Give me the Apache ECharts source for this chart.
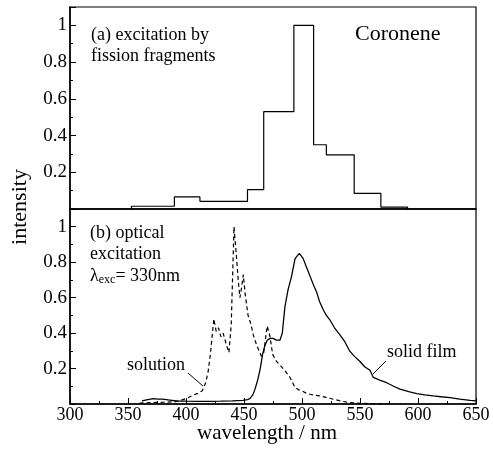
<!DOCTYPE html>
<html>
<head>
<meta charset="utf-8">
<script src="https://cdn.jsdelivr.net/npm/echarts@6/dist/echarts.min.js"></script>
<style>
  html, body { margin: 0; padding: 0; background: #fff; }
  #chart { width: 493px; height: 450px; }
</style>
</head>
<body>
<div id="chart"></div>
<script>
// (a) emission excited by fission fragments: histogram bin edges (nm) and heights
const binEdges = [353, 390, 412, 453, 467, 493, 510, 521, 545, 568, 591];
const binHeights = [0.015, 0.066, 0.042, 0.105, 0.53, 1.0, 0.35, 0.295, 0.085, 0.01];

// (b) optical excitation, solution spectrum (dashed)
const solutionNm = [360, 370, 380, 390, 395, 400, 405, 410, 414, 417, 419, 421, 422.5, 424, 426, 428, 430, 432, 435, 437, 439, 441.4, 443.5, 445, 446.5, 448, 449.4, 451, 453.5, 456, 458, 461, 465, 467, 470, 472.4, 474.7, 478, 481, 485, 489.7, 494, 497, 500, 504, 507, 511, 515.5, 521, 527, 534, 541, 550, 560, 575];
const solutionVal = [0.005, 0.008, 0.01, 0.012, 0.02, 0.03, 0.046, 0.06, 0.075, 0.12, 0.18, 0.28, 0.38, 0.48, 0.41, 0.43, 0.38, 0.40, 0.33, 0.29, 0.45, 1.0, 0.83, 0.70, 0.60, 0.66, 0.73, 0.62, 0.50, 0.45, 0.39, 0.33, 0.27, 0.29, 0.44, 0.38, 0.28, 0.24, 0.22, 0.19, 0.15, 0.093, 0.08, 0.074, 0.06, 0.055, 0.05, 0.046, 0.037, 0.027, 0.016, 0.008, 0.004, 0.002, 0.0];

// (b) optical excitation, solid film spectrum (solid)
const filmNm = [362, 367, 372, 376, 380, 386, 392, 400, 410, 420, 430, 440, 449, 453, 455, 457.5, 459.5, 462, 464, 466, 468, 470, 472.5, 475, 478, 481, 483, 485.3, 488, 491, 494, 497.7, 501, 504, 507, 510, 512.7, 515, 518.4, 521, 524, 528, 532.7, 537, 541, 545, 550, 554, 558.6, 561.5, 567, 573, 579, 584.5, 592, 599, 606, 613, 620, 627.6, 636, 645, 650];
const filmVal = [0.017, 0.025, 0.03, 0.028, 0.027, 0.022, 0.017, 0.016, 0.015, 0.015, 0.016, 0.018, 0.02, 0.025, 0.03, 0.05, 0.084, 0.14, 0.2, 0.28, 0.33, 0.36, 0.37, 0.37, 0.36, 0.36, 0.40, 0.55, 0.645, 0.72, 0.82, 0.85, 0.82, 0.77, 0.72, 0.67, 0.63, 0.58, 0.53, 0.50, 0.475, 0.43, 0.39, 0.35, 0.30, 0.27, 0.24, 0.21, 0.19, 0.15, 0.135, 0.12, 0.10, 0.084, 0.07, 0.059, 0.052, 0.046, 0.041, 0.036, 0.028, 0.021, 0.018];

// axis ticks
const xTicks = [300, 350, 400, 450, 500, 550, 600, 650];
const yTicks = [0.2, 0.4, 0.6, 0.8, 1];

const FONT = '"Liberation Serif", "DejaVu Serif", serif';

// histogram outline: each bin holds its height until the next edge
const histData = [[binEdges[0], 0]];
binHeights.forEach((h, i) => histData.push([binEdges[i], h]));
histData.push([binEdges[binEdges.length - 1], binHeights[binHeights.length - 1]]);
histData.push([binEdges[binEdges.length - 1], 0]);

const solutionData = solutionNm.map((x, i) => [x, solutionVal[i]]);
const filmData = filmNm.map((x, i) => [x, filmVal[i]]);

function yLabel(v) {
  const r = Math.round(v * 10) / 10;
  if (!yTicks.some(t => Math.abs(t - r) < 1e-6) || Math.abs(v - r) > 1e-6) return '';
  return r === 1 ? '1' : r.toFixed(1);
}
function xLabel(v) {
  return xTicks.indexOf(v) >= 0 ? String(v) : '';
}

const axisLineStyle = { color: '#000', width: 1.5 };

function xAxisDef(gridIndex, showLabels) {
  return {
    type: 'value', gridIndex, min: 300, max: 650, interval: 50,
    axisLine: { show: true, onZero: false, lineStyle: axisLineStyle },
    axisTick: { show: showLabels, inside: true, length: 6, lineStyle: { color: '#000' } },
    minorTick: { show: showLabels, splitNumber: 2, length: 3, lineStyle: { color: '#000' } },
    axisLabel: { show: showLabels, formatter: xLabel, color: '#000', fontFamily: FONT, fontSize: 18, margin: 2 },
    splitLine: { show: false }
  };
}
function yAxisDef(gridIndex) {
  return {
    type: 'value', gridIndex, min: 0, max: 1.1, interval: 0.2,
    axisLine: { show: true, lineStyle: axisLineStyle },
    axisTick: { show: true, inside: true, length: 6, lineStyle: { color: '#000' } },
    minorTick: { show: true, splitNumber: 2, length: 3, lineStyle: { color: '#000' } },
    axisLabel: { formatter: yLabel, color: '#000', fontFamily: FONT, fontSize: 19, margin: 3, showMaxLabel: false },
    splitLine: { show: false }
  };
}

const chart = echarts.init(document.getElementById('chart'), null, { renderer: 'canvas' });

chart.setOption({
  animation: false,
  backgroundColor: '#fff',
  grid: [
    { left: 70, right: 17, top: 7, height: 202, show: true, borderColor: '#000', borderWidth: 1.2, backgroundColor: 'transparent' },
    { left: 70, right: 17, top: 209, height: 195, show: true, borderColor: '#000', borderWidth: 1.2, backgroundColor: 'transparent' }
  ],
  xAxis: [xAxisDef(0, false), xAxisDef(1, true)],
  yAxis: [yAxisDef(0), yAxisDef(1)],
  series: [
    {
      name: 'fission fragments', type: 'line', xAxisIndex: 0, yAxisIndex: 0,
      data: histData, step: 'end', symbol: 'none',
      lineStyle: { color: '#000', width: 1.2 }
    },
    {
      name: 'solution', type: 'line', xAxisIndex: 1, yAxisIndex: 1,
      data: solutionData, symbol: 'none',
      lineStyle: { color: '#000', width: 1.2, type: [4, 3] }
    },
    {
      name: 'solid film', type: 'line', xAxisIndex: 1, yAxisIndex: 1,
      data: filmData, symbol: 'none',
      lineStyle: { color: '#000', width: 1.3 }
    }
  ],
  graphic: [
    { type: 'text', left: 91, top: 26, style: { text: '(a) excitation by', font: '18px ' + FONT, fill: '#000' } },
    { type: 'text', left: 91, top: 47, style: { text: 'fission fragments', font: '18px ' + FONT, fill: '#000' } },
    { type: 'text', left: 355, top: 23, style: { text: 'Coronene', font: '22px ' + FONT, fill: '#000' } },
    { type: 'text', left: 90, top: 224, style: { text: '(b) optical', font: '18px ' + FONT, fill: '#000' } },
    { type: 'text', left: 90, top: 245, style: { text: 'excitation', font: '18px ' + FONT, fill: '#000' } },
    {
      type: 'text', left: 90, top: 267,
      style: {
        text: 'λ{sub|exc}= 330nm', font: '18px ' + FONT, fill: '#000',
        rich: { sub: { fontSize: 12, fontFamily: FONT, fill: '#000', verticalAlign: 'bottom', padding: [8, 0, 0, 0] } }
      }
    },
    { type: 'text', left: 127, top: 356, style: { text: 'solution', font: '18px ' + FONT, fill: '#000' } },
    { type: 'line', shape: { x1: 188, y1: 373, x2: 203, y2: 386 }, style: { stroke: '#000', lineWidth: 1 } },
    { type: 'text', left: 387, top: 343, style: { text: 'solid film', font: '18px ' + FONT, fill: '#000' } },
    { type: 'line', shape: { x1: 386, y1: 361, x2: 373, y2: 374 }, style: { stroke: '#000', lineWidth: 1 } },
    { type: 'text', left: 197, top: 423, style: { text: 'wavelength / nm', font: '21px ' + FONT, fill: '#000' } },
    { type: 'text', x: 20, y: 207, rotation: Math.PI / 2, style: { text: 'intensity', font: '22px ' + FONT, fill: '#000', align: 'center', verticalAlign: 'middle' } }
  ]
});
</script>
</body>
</html>
